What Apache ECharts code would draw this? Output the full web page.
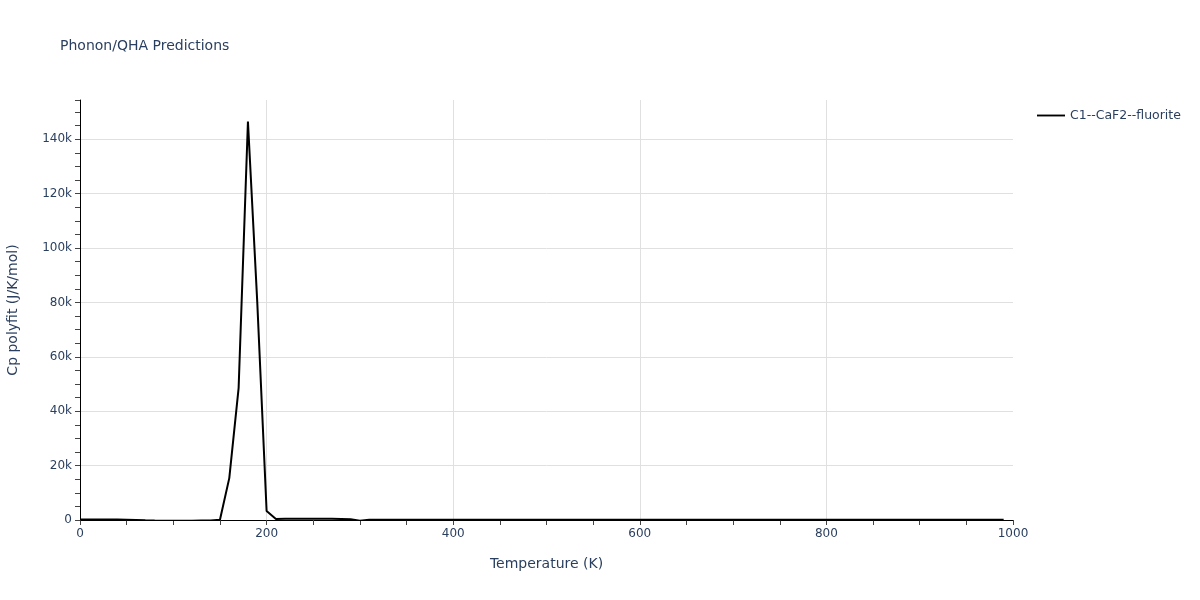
<!DOCTYPE html>
<html>
<head>
<meta charset="utf-8">
<script src="https://cdn.jsdelivr.net/npm/echarts@6/dist/echarts.min.js"></script>
<style>html,body{margin:0;padding:0;background:#fff}#c{width:1200px;height:600px}</style>
</head>
<body>
<div id="c"></div>
<script>
const temperatures = [0,10,20,30,40,50,60,70,80,90,100,110,120,130,140,150,160,170,180,190,200,210,220,230,240,250,260,270,280,290,300,310,320,330,340,350,360,370,380,390,400,410,420,430,440,450,460,470,480,490,500,510,520,530,540,550,560,570,580,590,600,610,620,630,640,650,660,670,680,690,700,710,720,730,740,750,760,770,780,790,800,810,820,830,840,850,860,870,880,890,900,910,920,930,940,950,960,970,980,990];
const cpValues = [150,150,150,150,150,120,40,-100,-200,-250,-250,-250,-250,-200,-150,100,15400,48500,146500,80000,3300,400,500,500,500,500,450,450,400,250,-300,100,100,100,100,100,100,100,100,100,100,100,100,100,100,100,100,100,100,100,100,100,100,100,100,100,100,100,100,100,100,100,100,100,100,100,100,100,100,100,100,100,100,100,100,100,100,100,100,100,100,100,100,100,100,100,100,100,100,100,100,100,100,100,100,100,100,100,100,100];
const seriesName = 'C1--CaF2--fluorite';
const chartTitle = 'Phonon/QHA Predictions';
const xTitle = 'Temperature (K)';
const yTitle = 'Cp polyfit (J/K/mol)';

const txt = '#2a3f5f';
const font = '"DejaVu Sans", Verdana, sans-serif';
const chart = echarts.init(document.getElementById('c'));
chart.setOption({
  animation: false,
  backgroundColor: '#fff',
  title: {text: chartTitle, left: 55, top: 34, textStyle: {color: txt, fontSize: 14, fontWeight: 'normal', fontFamily: font}},
  legend: {left: 1032, top: 104, icon: 'path://M0,0H30V2H0Z', itemWidth: 28, itemHeight: 2, itemGap: 6,
    textStyle: {color: txt, fontSize: 12.5, fontFamily: font}, data: [seriesName]},
  grid: {left: 80, right: 187, top: 100, bottom: 80, outerBoundsMode: 'none', containLabel: false},
  xAxis: {type: 'value', min: 0, max: 1000, interval: 200,
    name: xTitle, nameLocation: 'middle', nameGap: 37, nameTextStyle: {color: txt, fontSize: 14, fontFamily: font},
    axisLine: {show: true, lineStyle: {color: '#000', width: 1}},
    axisTick: {show: true, length: 5, lineStyle: {color: '#444'}},
    minorTick: {show: true, splitNumber: 4, length: 5, lineStyle: {color: '#444'}},
    axisLabel: {color: txt, fontSize: 12, fontFamily: font, margin: 8, formatter: v => String(v)},
    splitLine: {show: true, lineStyle: {color: '#e0e0e0'}, showMinLine: false, showMaxLine: false}},
  yAxis: {type: 'value', min: 0, max: 154400, interval: 20000,
    name: yTitle, nameLocation: 'middle', nameGap: 60, nameTextStyle: {color: txt, fontSize: 14, fontFamily: font},
    axisLine: {show: true, lineStyle: {color: '#000', width: 1}},
    axisTick: {show: true, length: 5, lineStyle: {color: '#444'}},
    minorTick: {show: true, splitNumber: 4, length: 5, lineStyle: {color: '#444'}},
    axisLabel: {color: txt, fontSize: 12, fontFamily: font, margin: 8, showMaxLabel: false,
      formatter: v => (v % 20000 !== 0 ? '' : (v === 0 ? '0' : (v / 1000) + 'k'))},
    splitLine: {show: true, lineStyle: {color: '#e0e0e0'}, showMinLine: false, showMaxLine: false}},
  series: [{name: seriesName, type: 'line', showSymbol: false, symbol: 'none', clip: true,
    lineStyle: {color: '#000', width: 2}, itemStyle: {color: '#000'},
    data: temperatures.map((t, i) => [t, cpValues[i]])}]
});
</script>
</body>
</html>
